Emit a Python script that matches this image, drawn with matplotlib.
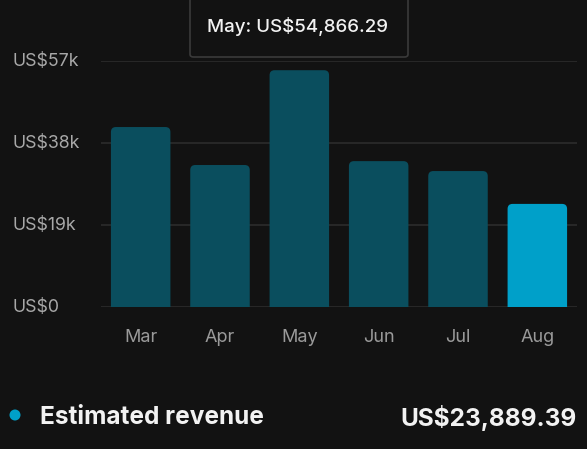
import matplotlib
matplotlib.use("Agg")
import matplotlib.pyplot as plt
from matplotlib.patches import FancyBboxPatch, Ellipse

months = ["Mar", "Apr", "May", "Jun", "Jul", "Aug"]
revenue = [41700, 32900, 54866.29, 33800, 31500, 23889.39]
yticks = [0, 19000, 38000, 57000]
ytick_labels = ["US$0", "US$19k", "US$38k", "US$57k"]
tooltip_text = "May: US$54,866.29"
legend_label = "Estimated revenue"
legend_value = "US$23,889.39"

BG = "#121212"
DIM = "#0a4e5e"
BRIGHT = "#00a0c9"
plt.rcParams['font.family'] = ['Inter', 'DejaVu Sans']

W, H = 587, 449
fig = plt.figure(figsize=(W / 100, H / 100), dpi=100, facecolor=BG)
ax_l, ax_r, ax_b, ax_t = 101, 577, 307, 61
ax = fig.add_axes([ax_l / W, (H - ax_b) / H, (ax_r - ax_l) / W, (ax_b - ax_t) / H])
ax.set_facecolor(BG)
ax.set_xlim(-0.5, len(months) - 0.5)
ax.set_ylim(0, 57000)

px_x = (ax_r - ax_l) / len(months)  # px per x unit
px_y = (ax_b - ax_t) / 57000        # px per dollar
r_px = 5
rs = r_px / px_x
aspect = (r_px / px_y) / rs

for y in yticks:
    ax.axhline(y, color="#2c2c2c", lw=1.2, zorder=1)

bw = 0.75
for i, v in enumerate(revenue):
    col = BRIGHT if i == len(revenue) - 1 else DIM
    p = FancyBboxPatch((i - bw / 2, -3000), bw, v + 3000,
                       boxstyle=f"round,pad=0,rounding_size={rs}",
                       mutation_aspect=aspect, fc=col, ec="none", zorder=2)
    ax.add_patch(p)

for s in ax.spines.values():
    s.set_visible(False)
ax.set_yticks([])
ax.set_xticks(range(len(months)))
ax.set_xticklabels(months, color="#9a9a9a", fontsize=13)
ax.tick_params(axis="x", length=0, pad=16)

for y, lab in zip(yticks, ytick_labels):
    fig.text(12 / W, 1 - (ax_b - y * px_y) / H, lab, color="#a8a8a8",
             fontsize=12.8, ha="left", va="center")

# tooltip
tip = FancyBboxPatch((190 / W, 1 - 57 / H), (408 - 190) / W, 70 / H,
                     boxstyle="round,pad=0,rounding_size=0.006",
                     transform=fig.transFigure, fc=BG, ec="#3a3a3a", lw=1.2)
fig.patches.append(tip)
fig.text(298 / W, 1 - 27 / H, tooltip_text, color="#f2f2f2", fontsize=13.5,
         fontweight="medium", ha="center", va="center")

# legend
fig.add_artist(Ellipse((15 / W, 1 - 415 / H), 11 / W, 11 / H, transform=fig.transFigure,
                       fc=BRIGHT, ec="none"))
fig.text(40 / W, 1 - 418 / H, legend_label, color="#f2f2f2", fontsize=17.6,
         fontweight="bold", ha="left", va="center")
fig.text(577 / W, 1 - 418 / H, legend_value, color="#f2f2f2", fontsize=17.6,
         fontweight="bold", ha="right", va="center")

fig.savefig("out.png", dpi=100, facecolor=BG)
